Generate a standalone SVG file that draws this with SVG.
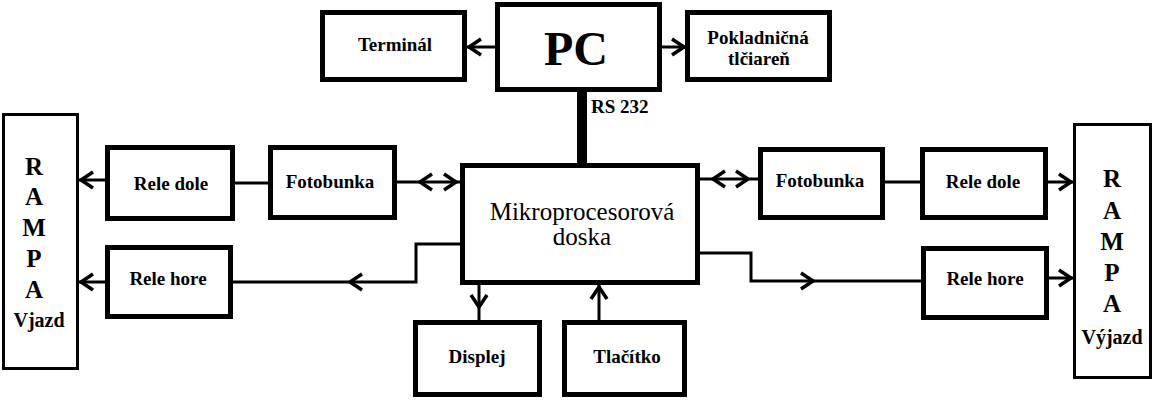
<svg xmlns="http://www.w3.org/2000/svg" xmlns:xlink="http://www.w3.org/1999/xlink" width="1157" height="401" viewBox="0 0 1157 401">
<style>
.box{fill:#fff;stroke:#000;stroke-width:5}
.ramp{fill:#fff;stroke:#000;stroke-width:3}
.ln{fill:none;stroke:#000;stroke-width:3}
.t{font-family:"Liberation Serif","Times New Roman",serif;font-weight:bold;font-size:19px;text-anchor:middle;fill:#000}
.big{font-size:48px}
.ra{font-size:25px}
.rv{font-size:20px}
.mk{font-family:"Liberation Serif","Times New Roman",serif;font-size:25px;text-anchor:middle;fill:#000}
</style>
<defs>
<path id="chev" d="M-12,-8 L0,0 L-12,8" fill="none" stroke="#000" stroke-width="3.5"/>
</defs>
<rect width="1157" height="401" fill="#fff"/>
<g id="connectors">
<line class="ln" x1="495" y1="47" x2="467" y2="47"/>
<use xlink:href="#chev" transform="translate(469,47) rotate(180)"/>
<line class="ln" x1="662" y1="47" x2="685" y2="47"/>
<use xlink:href="#chev" transform="translate(684,47)"/>
<rect x="577" y="90" width="10" height="75" fill="#000"/>
<line class="ln" x1="397" y1="182" x2="460" y2="182"/>
<use xlink:href="#chev" transform="translate(420,182) rotate(180)"/>
<use xlink:href="#chev" transform="translate(456,182)"/>
<line class="ln" x1="235" y1="183" x2="268" y2="183"/>
<line class="ln" x1="105" y1="180" x2="79" y2="180"/>
<use xlink:href="#chev" transform="translate(81,180) rotate(180)"/>
<polyline class="ln" points="460,244 416,244 416,282 233,282"/>
<use xlink:href="#chev" transform="translate(350,282) rotate(180)"/>
<line class="ln" x1="105" y1="282" x2="79" y2="282"/>
<use xlink:href="#chev" transform="translate(81,282) rotate(180)"/>
<line class="ln" x1="479" y1="285" x2="479" y2="320"/>
<use xlink:href="#chev" transform="translate(479,307) rotate(90)"/>
<line class="ln" x1="599" y1="320" x2="599" y2="285"/>
<use xlink:href="#chev" transform="translate(599,287) rotate(-90)"/>
<line class="ln" x1="700" y1="179" x2="758" y2="179"/>
<use xlink:href="#chev" transform="translate(713,179) rotate(180)"/>
<use xlink:href="#chev" transform="translate(748,179)"/>
<line class="ln" x1="885" y1="182" x2="920" y2="182"/>
<line class="ln" x1="1048" y1="182" x2="1073" y2="182"/>
<use xlink:href="#chev" transform="translate(1071,182)"/>
<polyline class="ln" points="700,253 751,253 751,281 921,281"/>
<use xlink:href="#chev" transform="translate(813,281)"/>
<line class="ln" x1="1049" y1="278" x2="1073" y2="278"/>
<use xlink:href="#chev" transform="translate(1071,278)"/>
<text class="t" x="591" y="113" style="text-anchor:start">RS 232</text>
</g>
<g id="terminal"><rect class="box" x="322.5" y="12.5" width="142" height="67"/><text class="t" x="395" y="51">Terminál</text></g>
<g id="pc"><rect class="box" x="497.5" y="4.5" width="162" height="85"/><text class="t big" x="576" y="65">PC</text></g>
<g id="pokladnicna"><rect class="box" x="687.5" y="12.5" width="142" height="67"/><text class="t" x="758" y="44">Pokladničná</text><text class="t" x="759" y="65">tlčiareň</text></g>
<g id="rampa-vjazd"><rect class="ramp" x="3.5" y="114.5" width="74" height="254"/>
<text class="t ra" x="34" y="175">R</text><text class="t ra" x="34" y="205">A</text><text class="t ra" x="34" y="236">M</text><text class="t ra" x="34" y="267">P</text><text class="t ra" x="34" y="298">A</text><text class="t rv" x="39" y="327">Vjazd</text></g>
<g id="rele-dole-l"><rect class="box" x="107.5" y="147.5" width="125" height="71"/><text class="t" x="171" y="190">Rele dole</text></g>
<g id="fotobunka-l"><rect class="box" x="270.5" y="147.5" width="124" height="70"/><text class="t" x="330" y="188">Fotobunka</text></g>
<g id="rele-hore-l"><rect class="box" x="107.5" y="247.5" width="123" height="69"/><text class="t" x="168" y="285">Rele hore</text></g>
<g id="mikro"><rect class="box" x="462.5" y="165.5" width="235" height="117"/><text class="mk" x="582" y="220">Mikroprocesorová</text><text class="mk" x="582" y="245">doska</text></g>
<g id="displej"><rect class="box" x="415.5" y="322.5" width="124" height="72"/><text class="t" x="477" y="363">Displej</text></g>
<g id="tlacitko"><rect class="box" x="564.5" y="322.5" width="120" height="72"/><text class="t" x="627" y="363">Tlačítko</text></g>
<g id="fotobunka-r"><rect class="box" x="760.5" y="149.5" width="122" height="68"/><text class="t" x="820" y="187">Fotobunka</text></g>
<g id="rele-dole-r"><rect class="box" x="922.5" y="149.5" width="123" height="68"/><text class="t" x="983" y="188">Rele dole</text></g>
<g id="rele-hore-r"><rect class="box" x="923.5" y="248.5" width="123" height="69"/><text class="t" x="985" y="285">Rele hore</text></g>
<g id="rampa-vyjazd"><rect class="ramp" x="1074.5" y="124.5" width="76" height="253"/>
<text class="t ra" x="1112" y="187">R</text><text class="t ra" x="1112" y="219">A</text><text class="t ra" x="1112" y="250">M</text><text class="t ra" x="1112" y="281">P</text><text class="t ra" x="1112" y="312">A</text><text class="t rv" x="1112" y="344">Výjazd</text></g>
</svg>
